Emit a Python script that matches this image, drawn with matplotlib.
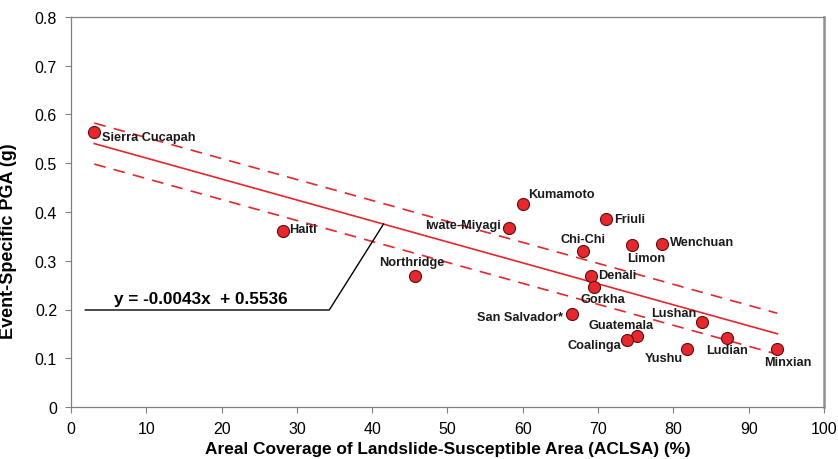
import numpy as np
import matplotlib.pyplot as plt

plt.rcParams['font.family'] = ['Liberation Sans', 'DejaVu Sans']

events = ['Sierra Cucapah', 'Haiti', 'Northridge', 'Iwate-Miyagi', 'Kumamoto',
          'Friuli', 'Chi-Chi', 'Denali', 'Gorkha', 'San Salvador*', 'Guatemala',
          'Coalinga', 'Limon', 'Wenchuan', 'Lushan', 'Yushu', 'Ludian', 'Minxian']
aclsa = [3.1, 28.1, 45.7, 58.2, 60.0, 71.0, 68.0, 69.0, 69.4, 66.6, 75.1,
         73.9, 74.5, 78.5, 83.8, 81.8, 87.1, 93.8]
pga = [0.564, 0.361, 0.269, 0.367, 0.416, 0.386, 0.320, 0.269, 0.246, 0.190,
       0.146, 0.137, 0.332, 0.334, 0.174, 0.119, 0.142, 0.119]

slope = -0.0043
intercept = 0.5536
band = 0.042

# label placement: (dx, dy) in pixels, horizontal alignment
label_pos = {
    'Sierra Cucapah': (8, -5, 'left'),
    'Haiti': (7, 2, 'left'),
    'Northridge': (-3, 14, 'center'),
    'Iwate-Miyagi': (-8, 3, 'right'),
    'Kumamoto': (5, 10, 'left'),
    'Friuli': (8, 0, 'left'),
    'Chi-Chi': (0, 12, 'center'),
    'Denali': (8, 1, 'left'),
    'Gorkha': (-13, -12, 'left'),
    'San Salvador*': (-9, -3, 'right'),
    'Guatemala': (-15, 11, 'center'),
    'Coalinga': (-6, -5, 'right'),
    'Limon': (-5, -13, 'left'),
    'Wenchuan': (8, 2, 'left'),
    'Lushan': (-6, 9, 'right'),
    'Yushu': (-4, -9, 'right'),
    'Ludian': (0, -12, 'center'),
    'Minxian': (10, -13, 'center'),
}

red = '#e8262b'

fig = plt.figure(figsize=(8.38, 4.6), dpi=100)
ax = fig.add_axes([0.0847, 0.113, 0.8986, 0.848])

xs = np.array([min(aclsa), max(aclsa)])
fit = slope * xs + intercept
ax.plot(xs, fit, color=red, lw=1.2, zorder=2)
ax.plot(xs, fit + band, color=red, lw=1.2, ls=(0, (7, 5)), zorder=2)
ax.plot(xs, fit - band, color=red, lw=1.2, ls=(0, (7, 5)), zorder=2)

ax.scatter(aclsa, pga, s=75, color=red, edgecolor='#5a1010', linewidth=0.8, zorder=3)

for name, x, y in zip(events, aclsa, pga):
    dx, dy, ha = label_pos[name]
    ax.annotate(name, (x, y), xytext=(dx, dy), textcoords='offset pixels',
                ha=ha, va='center', fontsize=9.2, fontweight='bold', color='#1a1a1a')

# equation callout
x_tip = 41.5
ax.plot([1.9, 34.3, x_tip], [0.199, 0.199, slope * x_tip + intercept],
        color='black', lw=1.0, zorder=2)
ax.text(17.2, 0.222, 'y = -0.0043x  + 0.5536', ha='center', va='center',
        fontsize=12.3, fontweight='bold')

ax.set_xlim(0, 100)
ax.set_ylim(0, 0.8)
ax.set_xticks(np.arange(0, 101, 10))
ax.set_yticks(np.arange(0, 0.81, 0.1))
ax.set_yticklabels(['0', '0.1', '0.2', '0.3', '0.4', '0.5', '0.6', '0.7', '0.8'])
ax.tick_params(direction='out', length=4, color='#808080', labelsize=11.5, pad=6)

for side in ['left', 'bottom', 'top']:
    ax.spines[side].set_color('#808080')
    ax.spines[side].set_linewidth(0.9)
ax.spines['right'].set_color('#909090')
ax.spines['right'].set_linewidth(1.8)

ax.set_xlabel('Areal Coverage of Landslide-Susceptible Area (ACLSA) (%)',
              fontsize=12.4, fontweight='bold', labelpad=4)
ax.set_ylabel('Event-Specific PGA (g)', fontsize=13, fontweight='bold')
ax.yaxis.set_label_coords(-0.072, 0.428)

fig.savefig('out.png', dpi=100)
